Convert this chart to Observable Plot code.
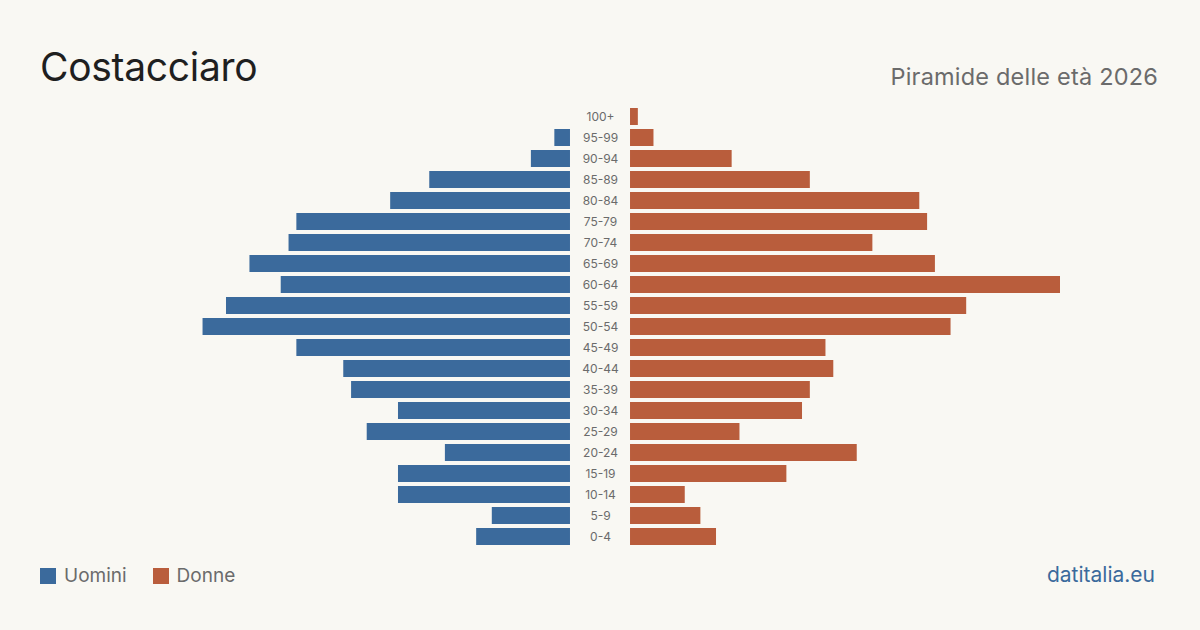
<!DOCTYPE html>
<html lang="it">
<head>
<meta charset="utf-8">
<title>Costacciaro – Piramide delle età 2026</title>
<script src="https://cdn.jsdelivr.net/npm/d3@7"></script>
<script src="https://cdn.jsdelivr.net/npm/@observablehq/plot@0.6"></script>
<style>
  html, body { margin: 0; padding: 0; background: #f9f8f3; }
  #wrap { position: relative; width: 1200px; height: 630px; overflow: hidden; font-family: Inter, "Noto Sans", sans-serif; }
  #title { position: absolute; left: 40px; top: 47px; font-size: 39px; color: #1f1f1f; line-height: 1; letter-spacing: -0.3px; }
  #subtitle { position: absolute; right: 42px; top: 65px; font-size: 23.5px; color: #6b6b6b; line-height: 1; letter-spacing: 0.2px; }
  #legend { position: absolute; left: 40px; top: 565px; font-size: 19px; color: #6b6b6b; display: flex; align-items: center; line-height: 22px; }
  #legend .sw { width: 16px; height: 16px; display: inline-block; margin-right: 8px; }
  #legend .item { display: flex; align-items: center; margin-right: 26px; }
  #source { position: absolute; right: 45px; top: 564px; font-size: 21px; color: #3b6a9c; line-height: 22px; }
  #chart { position: absolute; left: 0; top: 0; }
</style>
</head>
<body>
<div id="wrap">
  <div id="chart"></div>
  <div id="title">Costacciaro</div>
  <div id="subtitle">Piramide delle età 2026</div>
  <div id="legend">
    <span class="item"><span class="sw" style="background:#3b6a9c"></span>Uomini</span>
    <span class="item"><span class="sw" style="background:#b95d3c"></span>Donne</span>
  </div>
  <div id="source">datitalia.eu</div>
</div>
<script>
// Age classes, youngest first
const ages = ["0-4", "5-9", "10-14", "15-19", "20-24", "25-29", "30-34", "35-39", "40-44", "45-49",
              "50-54", "55-59", "60-64", "65-69", "70-74", "75-79", "80-84", "85-89", "90-94", "95-99", "100+"];
// Residents per age class
const men   = [12, 10, 22, 22, 16, 26, 22, 28, 29, 35, 47, 44, 37, 41, 36, 35, 23, 18, 5, 2, 0];
const women = [11,  9,  7, 20, 29, 14, 22, 23, 26, 25, 41, 43, 55, 39, 31, 38, 37, 23, 13, 3, 1];

const BLUE = "#3b6a9c";
const ORANGE = "#b95d3c";

// Half-width of the central label column, in data units
const GAP = 3.84;
const maxV = d3.max([...men, ...women]);

const rows = ages.map((age, i) => ({age, men: men[i], women: women[i]}));

const chart = Plot.plot({
  width: 1200,
  height: 630,
  marginLeft: 140,
  marginRight: 140,
  marginTop: 106,
  marginBottom: 83,
  style: {background: "transparent", fontFamily: "Inter, 'Noto Sans', sans-serif"},
  x: {domain: [-(maxV + GAP), maxV + GAP], axis: null},
  y: {domain: ages.slice().reverse(), axis: null, paddingInner: 4 / 21, paddingOuter: 2 / 21},
  marks: [
    Plot.barX(rows, {y: "age", x1: -GAP, x2: d => -GAP - d.men, fill: BLUE}),
    Plot.barX(rows, {y: "age", x1: GAP, x2: d => GAP + d.women, fill: ORANGE}),
    Plot.text(rows, {y: "age", x: 0, text: "age", fill: "#6b6b6b", fontSize: 12, textAnchor: "middle"})
  ]
});
document.getElementById("chart").appendChild(chart);
</script>
</body>
</html>
